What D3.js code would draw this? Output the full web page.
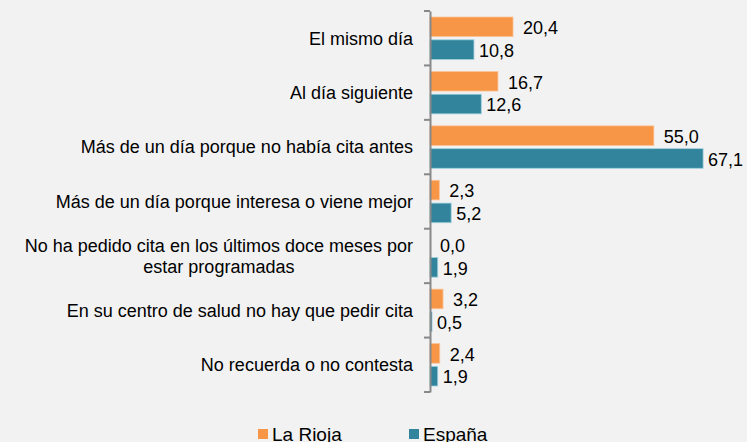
<!DOCTYPE html>
<html>
<head>
<meta charset="utf-8">
<script src="https://cdn.jsdelivr.net/npm/d3@7"></script>
<style>
  body { margin: 0; background: #f2f2f2; }
  svg { display: block; font-family: "Liberation Sans", Arial, sans-serif; }
</style>
</head>
<body>
<svg id="chart" width="747" height="442"></svg>
<script>
// categories (top to bottom) and values per series
var categories = [
    ["El mismo día"],
    ["Al día siguiente"],
    ["Más de un día porque no había cita antes"],
    ["Más de un día porque interesa o viene mejor"],
    ["No ha pedido cita en los últimos doce meses por", "estar programadas"],
    ["En su centro de salud no hay que pedir cita"],
    ["No recuerda o no contesta"]
]
var rioja = [20.4, 16.7, 55.0, 2.3, 0.0, 3.2, 2.4]
var espana = [10.8, 12.6, 67.1, 5.2, 1.9, 0.5, 1.9]
var seriesNames = ["La Rioja", "España"]
var colors = ["#f79646", "#31849b"]

var svg = d3.select("#chart"),
    margin = { top: 11, left: 430, bottom: 50, right: 0 },
    height = +svg.attr("height")

var data = categories.map((c, i) => ({ key: i, label: c, vals: [rioja[i], espana[i]] }))

var y = d3.scaleBand()
    .domain(data.map(d => d.key))
    .range([margin.top, 392])

var y1 = d3.scaleBand()
    .domain([0, 1])
    .range([6, y.bandwidth() - 6])
    .paddingInner(0.14)

var x = d3.scaleLinear()
    .domain([0, 80])
    .range([margin.left, margin.left + 325.6])

var fmt = v => v.toFixed(1).replace(".", ",")

// bars
var groups = svg.selectAll("g.cat")
    .data(data)
    .enter().append("g")
    .attr("class", "cat")
    .attr("transform", d => `translate(0,${y(d.key)})`)

groups.selectAll("rect")
    .data(d => d.vals.map((v, j) => ({ v: v, j: j })))
    .enter().append("rect")
    .attr("x", x(0))
    .attr("y", d => y1(d.j))
    .attr("width", d => x(d.v) - x(0))
    .attr("height", y1.bandwidth())
    .attr("fill", d => colors[d.j])
    .attr("stroke", d => d.v > 0 ? (d.j == 0 ? "#fbc49a" : "#9fd0de") : "none")
    .attr("stroke-width", 0.8)

groups.selectAll("text.val")
    .data(d => d.vals.map((v, j) => ({ v: v, j: j })))
    .enter().append("text")
    .attr("class", "val")
    .attr("x", d => x(d.v) + (d.j == 0 ? 10 : 5))
    .attr("y", d => y1(d.j) + y1.bandwidth() / 2 + 1)
    .attr("dy", "0.35em")
    .attr("font-size", 18)
    .attr("fill", "#000")
    .text(d => fmt(d.v))

// axis
var yAxis = svg.append("g")
    .attr("transform", `translate(${margin.left},0)`)
    .call(d3.axisLeft(y).tickValues([]).tickSizeOuter(0))
yAxis.select(".domain").attr("stroke", "#888").attr("stroke-width", 2)
yAxis.selectAll(".bt")
    .data(d3.range(categories.length + 1))
    .enter().append("line")
    .attr("class", "bt")
    .attr("x1", -6).attr("x2", 0)
    .attr("y1", i => (i < categories.length ? y(i) : y.range()[1]))
    .attr("y2", i => (i < categories.length ? y(i) : y.range()[1]))
    .attr("stroke", "#888").attr("stroke-width", 2)

// category labels
var labels = svg.selectAll("text.cat")
    .data(data)
    .enter().append("text")
    .attr("class", "cat")
    .attr("font-size", 18)
    .attr("fill", "#000")
    .attr("y", d => y(d.key) + y.bandwidth() / 2 - (d.label.length - 1) * 10.5)
    .attr("x", 413)
    .attr("text-anchor", "end")

labels.each(function (d) {
    var t = d3.select(this)
    if (d.label.length == 1) {
        t.append("tspan").attr("dy", "0.35em").text(d.label[0])
    } else {
        // multi-line labels are centred under the widest line
        t.attr("text-anchor", "middle")
        var tmp = t.append("tspan").text(d.label[0])
        var w = this.getComputedTextLength()
        tmp.remove()
        d.label.forEach((l, k) => {
            t.append("tspan")
                .attr("x", 413 - w / 2)
                .attr("dy", k == 0 ? "0.35em" : 21)
                .text(l)
        })
    }
})

// legend
var legend = svg.selectAll("g.leg")
    .data(seriesNames)
    .enter().append("g")
    .attr("class", "leg")
    .attr("transform", (d, i) => `translate(${258 + i * 151},429)`)
legend.append("rect")
    .attr("width", 10).attr("height", 10)
    .attr("fill", (d, i) => colors[i])
legend.append("text")
    .attr("x", 14).attr("y", 12)
    .attr("font-size", 19)
    .attr("fill", "#000")
    .text(d => d)
</script>
</body>
</html>
